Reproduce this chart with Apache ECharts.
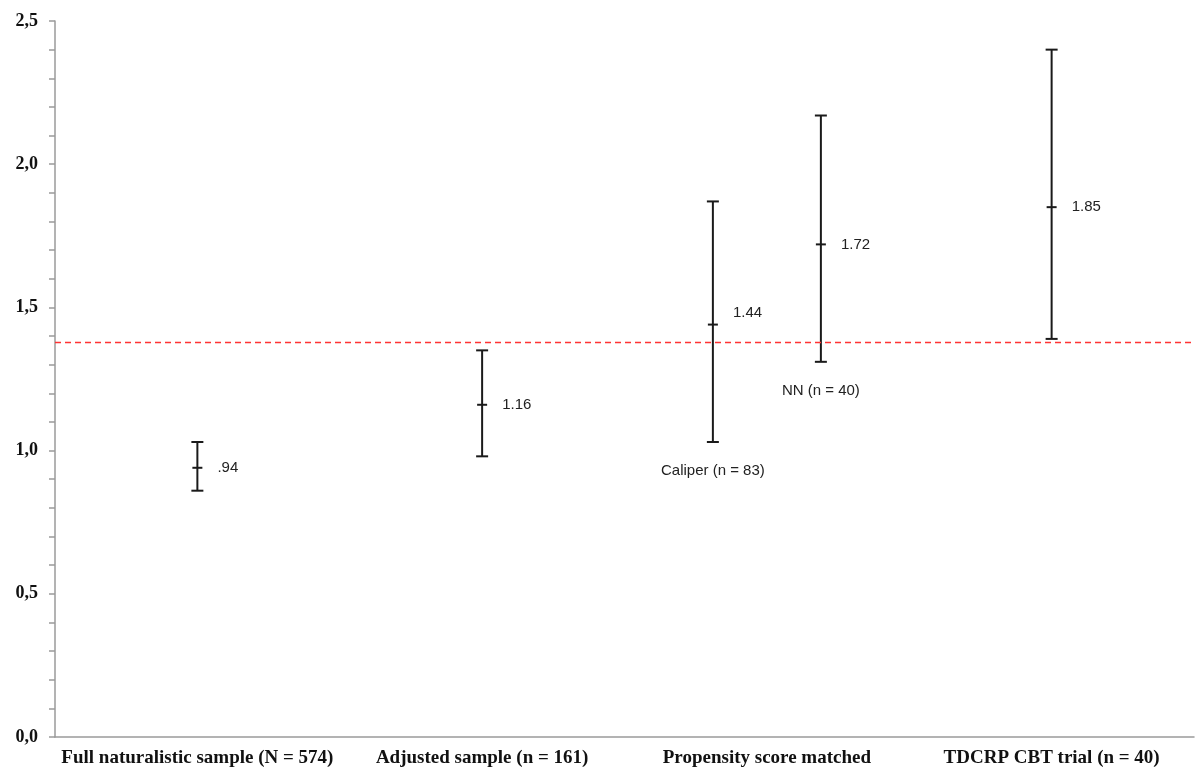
<!DOCTYPE html>
<html>
<head>
<meta charset="utf-8">
<script src="https://cdn.jsdelivr.net/npm/echarts@6/dist/echarts.min.js"></script>
<style>
  html, body { margin: 0; padding: 0; background: #fff; }
  #main { width: 1198px; height: 774px; }
</style>
</head>
<body>
<div id="main"></div>
<script>
// categories on the x axis
var categories = [
  "Full naturalistic sample (N = 574)",
  "Adjusted sample (n = 161)",
  "Propensity score matched",
  "TDCRP CBT trial (n = 40)"
];
// each interval: which category it belongs to, point estimate and bounds
var barGroup = [0, 1, 2, 2, 3];
var effect = [0.94, 1.16, 1.44, 1.72, 1.85];
var lower = [0.86, 0.98, 1.03, 1.31, 1.39];
var upper = [1.03, 1.35, 1.87, 2.17, 2.40];
var valueLabels = [".94", "1.16", "1.44", "1.72", "1.85"];
var subLabels = ["", "", "Caliper (n = 83)", "NN (n = 40)", ""];
// benchmark (dashed red line)
var benchmark = 1.375;

var chart = echarts.init(document.getElementById("main"));

// layout: bars that share a category are spread apart
var dodgeStep = 108;
var labelRaise = { 2: -12 }; // 1.44 sits a little above its tick

var data = [];
for (var i = 0; i < effect.length; i++) {
  data.push([barGroup[i], lower[i], upper[i], effect[i]]);
}

function renderBar(params, api) {
  var i = params.dataIndex;
  var g = api.value(0);
  var same = [], k = 0;
  for (var j = 0; j < barGroup.length; j++) {
    if (barGroup[j] === barGroup[i]) {
      if (j === i) k = same.length;
      same.push(j);
    }
  }
  var dx = (k - (same.length - 1) / 2) * dodgeStep;
  var pMid = api.coord([g, api.value(3)]);
  var x = pMid[0] + dx;
  var yLo = api.coord([g, api.value(1)])[1];
  var yHi = api.coord([g, api.value(2)])[1];
  var yMid = pMid[1];
  var capW = 6;
  var st = { stroke: "#1a1a1a", lineWidth: 2 };
  var children = [
    { type: "line", shape: { x1: x, y1: yHi, x2: x, y2: yLo }, style: st },
    { type: "line", shape: { x1: x - capW, y1: yHi, x2: x + capW, y2: yHi }, style: st },
    { type: "line", shape: { x1: x - capW, y1: yLo, x2: x + capW, y2: yLo }, style: st },
    { type: "line", shape: { x1: x - 5, y1: yMid, x2: x + 5, y2: yMid }, style: st },
    {
      type: "text", x: x + 20, y: yMid + (labelRaise[i] || 0),
      style: {
        text: valueLabels[i], fill: "#222", fontSize: 15,
        fontFamily: "Liberation Sans", align: "left", verticalAlign: "middle"
      }
    }
  ];
  if (subLabels[i]) {
    children.push({
      type: "text", x: x, y: yLo + 29,
      style: {
        text: subLabels[i], fill: "#222", fontSize: 15,
        fontFamily: "Liberation Sans", align: "center", verticalAlign: "middle"
      }
    });
  }
  return { type: "group", children: children };
}

var option = {
  animation: false,
  backgroundColor: "#fff",
  grid: { left: 55, right: 4, top: 21, bottom: 37 },
  xAxis: {
    type: "category",
    data: categories,
    boundaryGap: true,
    axisLine: { lineStyle: { color: "#9a9a9a", width: 1.5 } },
    axisTick: { show: false },
    splitLine: { show: false },
    axisLabel: {
      interval: 0,
      margin: 12,
      color: "#111",
      fontFamily: "Liberation Serif",
      fontWeight: "bold",
      fontSize: 19
    }
  },
  yAxis: {
    type: "value",
    min: 0,
    max: 2.5,
    interval: 0.1,
    axisLine: { show: true, lineStyle: { color: "#9a9a9a", width: 1.5 } },
    axisTick: { show: true, length: 6, lineStyle: { color: "#9a9a9a", width: 1.5 } },
    splitLine: { show: false },
    axisLabel: {
      margin: 17,
      color: "#111",
      fontFamily: "Liberation Serif",
      fontWeight: "bold",
      fontSize: 18,
      formatter: function (v) {
        var h = v * 2;
        if (Math.abs(h - Math.round(h)) < 1e-6) return v.toFixed(1).replace(".", ",");
        return "";
      }
    }
  },
  series: [
    {
      type: "custom",
      clip: false,
      renderItem: renderBar,
      encode: { x: 0, y: [1, 2] },
      data: data,
      markLine: {
        silent: true,
        symbol: ["none", "none"],
        label: { show: false },
        lineStyle: { color: "#ff3333", type: [6, 4], width: 1.3 },
        data: [{ yAxis: benchmark }]
      }
    }
  ]
};

chart.setOption(option);
</script>
</body>
</html>
